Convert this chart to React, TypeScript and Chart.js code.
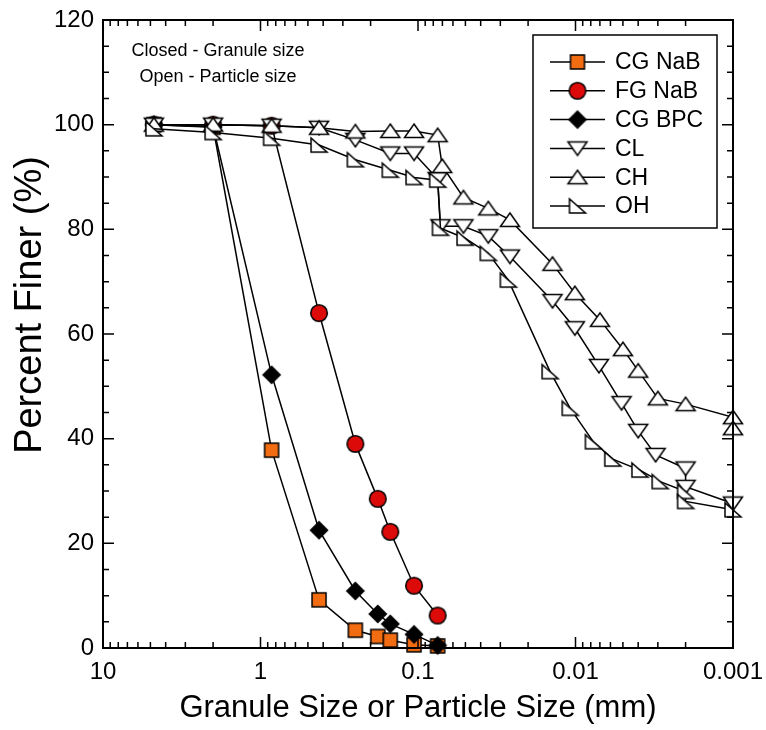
import React, { useEffect, useRef } from 'react';
import { Chart, registerables } from 'chart.js';

Chart.register(...registerables);

const FONT = "'Liberation Sans', Arial, Helvetica, sans-serif";

// Sieve openings (mm) for the granule gradations
const granuleSizes = [4.75, 2.0, 0.85, 0.425, 0.25, 0.18, 0.15, 0.106, 0.075];
const cgNaBFiner = [100, 99.5, 37.8, 9.2, 3.4, 2.2, 1.5, 0.6, 0.4];
const fgNaBFiner = [100, 100, 99.8, 64.0, 39.0, 28.5, 22.2, 11.9, 6.2];
const cgBPCFiner = [100, 99.6, 52.2, 22.5, 10.9, 6.5, 4.6, 2.6, 0.5];

// Soils: sieve openings followed by hydrometer particle diameters (mm)
const clSizes = [4.75, 2.0, 0.85, 0.425, 0.25, 0.15, 0.106, 0.075, 0.072, 0.0515, 0.0358, 0.0261, 0.014, 0.0101, 0.0071, 0.0051, 0.004, 0.0031, 0.002, 0.002, 0.001];
const clFiner = [100, 100, 99.8, 99.4, 97.1, 94.5, 94.5, 89.6, 80.6, 80.6, 78.7, 74.8, 66.3, 61.1, 53.9, 46.8, 41.5, 36.9, 34.3, 30.8, 27.6];
const chSizes = [4.75, 2.0, 0.85, 0.425, 0.25, 0.15, 0.106, 0.075, 0.0702, 0.0515, 0.0358, 0.0261, 0.014, 0.0101, 0.007, 0.005, 0.004, 0.003, 0.002, 0.001, 0.001];
const chFiner = [100, 100, 99.8, 99.4, 98.7, 98.8, 98.8, 98.0, 92.1, 86.1, 84.0, 81.8, 73.4, 67.8, 62.7, 57.1, 53.0, 47.7, 46.6, 44.1, 42.0];
const ohSizes = [4.75, 2.0, 0.85, 0.425, 0.25, 0.15, 0.106, 0.075, 0.072, 0.0503, 0.0358, 0.0267, 0.0145, 0.0108, 0.0077, 0.0058, 0.0039, 0.0029, 0.002, 0.002, 0.001];
const ohFiner = [99.2, 98.5, 97.4, 96.1, 93.3, 91.3, 89.9, 89.4, 80.2, 78.3, 75.4, 70.3, 52.8, 45.8, 39.4, 36.1, 34.0, 31.8, 29.9, 28.0, 26.4];

const seriesNames = ['CG NaB', 'FG NaB', 'CG BPC', 'CL', 'CH', 'OH'];
const xTickValues = [10, 1, 0.1, 0.01, 0.001];
const xTickLabels = ['10', '1', '0.1', '0.01', '0.001'];
const noteLines = ['Closed - Granule size', 'Open - Particle size'];
const xTitle = 'Granule Size or Particle Size (mm)';
const yTitle = 'Percent Finer (%)';

type Shape = 'square' | 'circle' | 'diamond' | 'triUp' | 'triDown' | 'triRight';

function makeMarker(shape: Shape, fill: string): HTMLCanvasElement {
  const c = document.createElement('canvas');
  c.width = 24;
  c.height = 22;
  const g = c.getContext('2d')!;
  const cx = 12;
  const cy = 11;
  g.beginPath();
  switch (shape) {
    case 'square':
      g.rect(cx - 7, cy - 7, 14, 14);
      break;
    case 'circle':
      g.arc(cx, cy, 8.3, 0, Math.PI * 2);
      break;
    case 'diamond':
      g.moveTo(cx, cy - 8.5);
      g.lineTo(cx + 8.5, cy);
      g.lineTo(cx, cy + 8.5);
      g.lineTo(cx - 8.5, cy);
      g.closePath();
      break;
    case 'triUp':
      g.moveTo(cx, cy - 7);
      g.lineTo(cx + 9.5, cy + 6.5);
      g.lineTo(cx - 9.5, cy + 6.5);
      g.closePath();
      break;
    case 'triDown':
      g.moveTo(cx, cy + 7);
      g.lineTo(cx + 9.5, cy - 6.5);
      g.lineTo(cx - 9.5, cy - 6.5);
      g.closePath();
      break;
    case 'triRight':
      g.moveTo(cx - 8, cy - 7);
      g.lineTo(cx - 8, cy + 7);
      g.lineTo(cx + 8, cy + 7);
      g.closePath();
      break;
  }
  g.fillStyle = fill;
  g.fill();
  g.lineWidth = 1.5;
  g.strokeStyle = '#000';
  g.stroke();
  return c;
}

// Frame with inward ticks on all four sides, the inset legend, the note and the y title
const decorPlugin = {
  id: 'decor',
  afterDatasetsDraw(chart: any) {
    const { ctx, chartArea: a, scales } = chart;
    const xs = scales.x;
    const ys = scales.y;
    ctx.save();
    ctx.strokeStyle = '#000';
    ctx.lineWidth = 1.5;
    ctx.beginPath();
    const logTicks: { v: number; major: boolean }[] = [];
    for (let d = -3; d <= 0; d++) {
      for (let m = 1; m <= 9; m++) logTicks.push({ v: m * Math.pow(10, d), major: m === 1 });
    }
    logTicks.push({ v: 10, major: true });
    for (const t of logTicks) {
      const px = xs.getPixelForValue(t.v);
      const len = t.major ? 11 : 6;
      ctx.moveTo(px, a.bottom);
      ctx.lineTo(px, a.bottom - len);
      ctx.moveTo(px, a.top);
      ctx.lineTo(px, a.top + len);
    }
    for (let v = 0; v <= 120; v += 5) {
      const py = ys.getPixelForValue(v);
      const len = v % 20 === 0 ? 11 : 6;
      ctx.moveTo(a.left, py);
      ctx.lineTo(a.left + len, py);
      ctx.moveTo(a.right, py);
      ctx.lineTo(a.right - len, py);
    }
    ctx.stroke();
    ctx.lineWidth = 2;
    ctx.strokeRect(a.left, a.top, a.right - a.left, a.bottom - a.top);

    // legend
    const bx0 = a.right - 200;
    const bx1 = a.right - 16;
    const by0 = a.top + 15;
    const by1 = a.top + 208;
    ctx.fillStyle = '#fff';
    ctx.fillRect(bx0, by0, bx1 - bx0, by1 - by0);
    ctx.lineWidth = 1.5;
    ctx.strokeRect(bx0, by0, bx1 - bx0, by1 - by0);
    ctx.font = `23px ${FONT}`;
    ctx.textAlign = 'left';
    ctx.textBaseline = 'middle';
    chart.data.datasets.forEach((ds: any, i: number) => {
      const y = by0 + 27 + i * 28.8;
      ctx.beginPath();
      ctx.moveTo(bx0 + 17, y);
      ctx.lineTo(bx0 + 72, y);
      ctx.lineWidth = 1.5;
      ctx.stroke();
      const img = ds.pointStyle as HTMLCanvasElement;
      ctx.drawImage(img, bx0 + 44.5 - img.width / 2, y - img.height / 2);
      ctx.fillStyle = '#000';
      ctx.fillText(ds.label, bx0 + 82, y + 1);
    });

    // note
    ctx.font = `18px ${FONT}`;
    ctx.textAlign = 'center';
    ctx.fillStyle = '#000';
    ctx.fillText(noteLines[0], a.left + 115, a.top + 31);
    ctx.fillText(noteLines[1], a.left + 115, a.top + 57);

    // y axis title
    ctx.save();
    ctx.translate(31, a.top + 285);
    ctx.rotate(-Math.PI / 2);
    ctx.font = `38px ${FONT}`;
    ctx.textAlign = 'center';
    ctx.textBaseline = 'middle';
    ctx.fillText(yTitle, 0, 0);
    ctx.restore();
    ctx.restore();
  },
};

const noScalePadding = (s: any) => {
  s.paddingLeft = 0;
  s.paddingRight = 0;
  s.paddingTop = 0;
  s.paddingBottom = 0;
};

export default function App() {
  const ref = useRef<HTMLCanvasElement | null>(null);

  useEffect(() => {
    if (!ref.current) return;
    const series = [
      { sizes: granuleSizes, finer: cgNaBFiner, shape: 'square' as Shape, fill: '#F26C12' },
      { sizes: granuleSizes, finer: fgNaBFiner, shape: 'circle' as Shape, fill: '#DD0A0A' },
      { sizes: granuleSizes, finer: cgBPCFiner, shape: 'diamond' as Shape, fill: '#000' },
      { sizes: clSizes, finer: clFiner, shape: 'triDown' as Shape, fill: '#fff' },
      { sizes: chSizes, finer: chFiner, shape: 'triUp' as Shape, fill: '#fff' },
      { sizes: ohSizes, finer: ohFiner, shape: 'triRight' as Shape, fill: '#fff' },
    ];
    const datasets = series.map((s, i) => ({
      label: seriesNames[i],
      data: s.sizes.map((x, j) => ({ x, y: s.finer[j] })),
      borderColor: '#000',
      borderWidth: 1.5,
      backgroundColor: s.fill,
      pointStyle: makeMarker(s.shape, s.fill),
      pointRadius: 9,
      pointHoverRadius: 9,
      tension: 0,
      fill: false,
      clip: false as const,
      order: 10 - i,
    }));

    Chart.defaults.font.family = FONT;
    Chart.defaults.color = '#000';

    const chart = new Chart(ref.current, {
      type: 'line',
      data: { datasets },
      options: {
        responsive: false,
        animation: false,
        devicePixelRatio: 1,
        events: [],
        layout: { padding: { top: 20, right: 33, left: 0, bottom: 0 } },
        plugins: { legend: { display: false }, tooltip: { enabled: false } },
        scales: {
          x: {
            type: 'logarithmic',
            reverse: true,
            min: 0.001,
            max: 10,
            grid: { display: false, drawTicks: false },
            border: { display: false },
            afterBuildTicks: (s: any) => {
              s.ticks = xTickValues.map((v) => ({ value: v, major: true }));
            },
            afterFit: (s: any) => {
              s.height = 82;
              noScalePadding(s);
            },
            ticks: {
              autoSkip: false,
              maxRotation: 0,
              padding: 10,
              color: '#000',
              font: { family: FONT, size: 24 },
              callback: (_v: any, i: number) => xTickLabels[i],
            },
            title: {
              display: true,
              text: xTitle,
              color: '#000',
              font: { family: FONT, size: 31 },
              padding: { top: 0, bottom: 3 },
            },
          },
          y: {
            min: 0,
            max: 120,
            grid: { display: false, drawTicks: false },
            border: { display: false },
            afterFit: (s: any) => {
              s.width = 103;
              noScalePadding(s);
            },
            ticks: {
              stepSize: 20,
              padding: 9,
              color: '#000',
              font: { family: FONT, size: 24 },
            },
          },
        },
      },
      plugins: [decorPlugin],
    } as any);
    return () => chart.destroy();
  }, []);

  return (
    <div style={{ position: 'absolute', left: 0, top: 0, width: 766, height: 730, background: '#fff' }}>
      <canvas ref={ref} width={766} height={730} style={{ display: 'block' }} />
    </div>
  );
}
